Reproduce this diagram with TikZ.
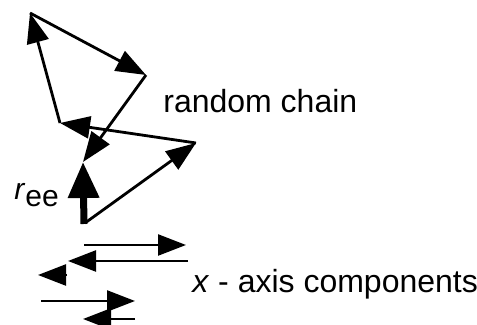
\documentclass[tikz,border=0pt]{standalone}
\usepackage{fontspec}
\setmainfont{Liberation Sans}
\usetikzlibrary{arrows.meta}
\tikzset{
	link/.style={line width=1.4pt, -{Triangle[length=15pt,width=11pt]}},
	comp/.style={line width=1.2pt, -{Triangle[length=14pt,width=10.5pt]}},
	endtoend/.style={line width=3.5pt, -{Triangle[length=18pt,width=15pt]}},
	lbl/.style={inner sep=0pt, anchor=base west, font=\fontsize{16}{19}\selectfont}
}
\begin{document}
\begin{tikzpicture}[x=0.5pt,y=-0.5pt]
			%%%%% START %%%%%
			\useasboundingbox (0,0) rectangle (477,325);
			
			% chain vertices
			\coordinate (s) at (85,223);
			\coordinate (p1) at (196,143);
			\coordinate (p2) at (60,123);
			\coordinate (p3) at (30,13);
			\coordinate (p4) at (146,75);
			\coordinate (p5) at (83,162);
			
			\draw[link] (s) -- (p1);
			\draw[link] (p1) -- (p2);
			\draw[link] (p2) -- (p3);
			\draw[link] (p3) -- (p4);
			\draw[link] (p4) -- (p5);
			
			\coordinate (e0) at (84,224);
			\draw[endtoend] (e0) -- (p5);
			
			% x - axis components
			\coordinate (a0) at (84,245);  \coordinate (a1) at (186,245);
			\coordinate (b0) at (188,261); \coordinate (b1) at (68,261);
			\coordinate (c0) at (67,275);  \coordinate (c1) at (38,275);
			\coordinate (d0) at (41,301);  \coordinate (d1) at (135,301);
			\coordinate (f0) at (135,319); \coordinate (f1) at (83,319);
			
			\draw[comp] (a0) -- (a1);
			\draw[comp] (b0) -- (b1);
			\draw[comp] (c0) -- (c1);
			\draw[comp] (d0) -- (d1);
			\draw[comp] (f0) -- (f1);
			
			\node[lbl] (chain) at (163,113) {random chain};
			\node[lbl] (xcomp) at (192,293) {\textit{x} - axis components};
			\node[lbl, font=\fontsize{15}{18}\selectfont] (ree) at (14,200) {\textit{r}\raisebox{-3.5pt}{ee}};
			
			%%%%% END %%%%%
\end{tikzpicture}
\end{document}
